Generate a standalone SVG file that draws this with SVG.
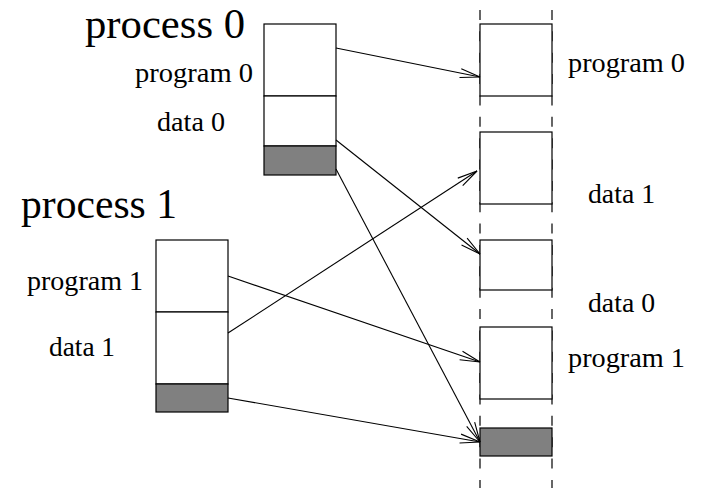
<svg xmlns="http://www.w3.org/2000/svg" width="709" height="488" viewBox="0 0 709 488">
<style>
.box{fill:#fff;stroke:#000;stroke-width:1.2}
.gray{fill:#808080;stroke:#000;stroke-width:1.2}
.dash{stroke:#000;stroke-width:1.2;stroke-dasharray:10 11.36;fill:none}
.conn{stroke:#000;stroke-width:1.1;fill:none;marker-end:url(#arr)}
.big{font-family:"Liberation Serif","Times New Roman",serif;font-size:42px;fill:#000}
.lbl{font-family:"Liberation Serif","Times New Roman",serif;font-size:28px;fill:#000}
</style>
<defs>
<marker id="arr" markerUnits="userSpaceOnUse" markerWidth="30" markerHeight="20" refX="0" refY="0" viewBox="-22 -10 24 20" orient="auto" overflow="visible">
<path d="M-20,-4.5 L0,0 L-20,4.5" fill="none" stroke="#000" stroke-width="1.1"/>
</marker>
</defs>
<g id="memory-column">
<line class="dash" x1="480" y1="10" x2="480" y2="488"/>
<line class="dash" x1="552" y1="10" x2="552" y2="488"/>
</g>
<g id="mem-program0"><rect class="box" x="480" y="24" width="72" height="72"/></g>
<g id="mem-data1"><rect class="box" x="480" y="132" width="72" height="72"/></g>
<g id="mem-data0"><rect class="box" x="480" y="240" width="72" height="50"/></g>
<g id="mem-program1"><rect class="box" x="480" y="327" width="72" height="72"/></g>
<g id="mem-gray"><rect class="gray" x="480" y="428" width="72" height="28"/></g>
<g id="process0">
<rect class="box" x="264" y="24" width="72" height="72"/>
<rect class="box" x="264" y="96" width="72" height="50"/>
<rect class="gray" x="264" y="146" width="72" height="29"/>
<text class="big" x="85" y="38" textLength="160" lengthAdjust="spacingAndGlyphs">process 0</text>
<text class="lbl" x="135" y="82" textLength="118" lengthAdjust="spacingAndGlyphs">program 0</text>
<text class="lbl" x="157" y="131" textLength="68" lengthAdjust="spacingAndGlyphs">data 0</text>
</g>
<g id="process1">
<rect class="box" x="156" y="240" width="72" height="72"/>
<rect class="box" x="156" y="312" width="72" height="72"/>
<rect class="gray" x="156" y="384" width="72" height="28"/>
<text class="big" x="21" y="218" textLength="156" lengthAdjust="spacingAndGlyphs">process 1</text>
<text class="lbl" x="27" y="290" textLength="116" lengthAdjust="spacingAndGlyphs">program 1</text>
<text class="lbl" x="49" y="356" textLength="66" lengthAdjust="spacingAndGlyphs">data 1</text>
</g>
<g id="mem-labels">
<text class="lbl" x="568" y="72" textLength="117" lengthAdjust="spacingAndGlyphs">program 0</text>
<text class="lbl" x="588" y="203" textLength="67" lengthAdjust="spacingAndGlyphs">data 1</text>
<text class="lbl" x="588" y="312" textLength="67" lengthAdjust="spacingAndGlyphs">data 0</text>
<text class="lbl" x="568" y="367" textLength="117" lengthAdjust="spacingAndGlyphs">program 1</text>
</g>
<g id="connectors">
<line class="conn" x1="336" y1="48" x2="480" y2="77"/>
<line class="conn" x1="336" y1="140" x2="480" y2="254"/>
<line class="conn" x1="336" y1="169" x2="480" y2="442"/>
<line class="conn" x1="228" y1="276" x2="480" y2="362"/>
<line class="conn" x1="228" y1="333" x2="477" y2="171"/>
<line class="conn" x1="228" y1="398" x2="480" y2="442"/>
</g>
</svg>
